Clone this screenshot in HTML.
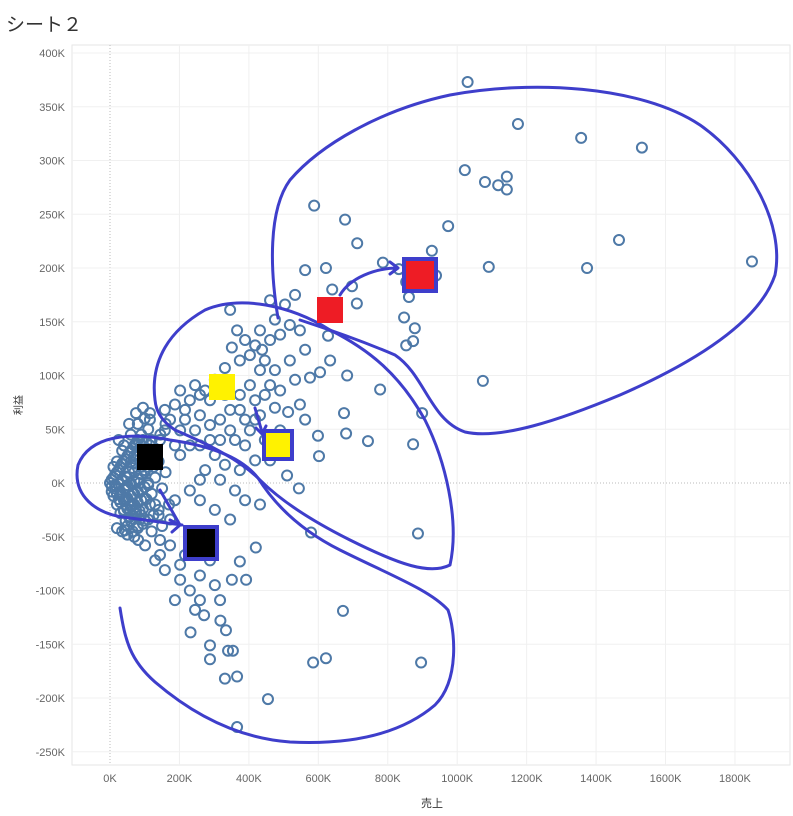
<!DOCTYPE html>
<html><head><meta charset="utf-8">
<style>
body{margin:0;background:#fff;font-family:"Liberation Sans","Noto Sans CJK JP",sans-serif;}
#wrap{position:relative;width:793px;height:816px;overflow:hidden;}
#title{position:absolute;left:6px;top:10px;font-size:19px;color:#333;}
</style></head><body>
<div id="wrap">
<div id="title">シート２</div>
<svg id="chart" width="793" height="816" style="position:absolute;left:0;top:0"></svg>
</div>
<script>
const xTicks=[0,200,400,600,800,1000,1200,1400,1600,1800];
const yTicks=[400,350,300,250,200,150,100,50,0,-50,-100,-150,-200,-250];
const sales=[1030,1175,1357,1532,1022,1080,1118,1143,1143,588,677,974,712,1466,927,1091,1374,1849,786,562,622,832,939,853,697,640,861,711,847,878,853,873,628,1074,778,683,674,680,743,599,602,899,873,887,896,671,622,585,579,544,510,455,366,366,331,340,354,334,318,232,288,288,271,420,374,392,351,
346,366,351,331,302,374,418,438,461,490,518,547,562,518,475,432,403,446,490,533,576,605,634,513,475,432,389,346,288,259,230,216,187,173,202,245,288,317,360,403,446,490,547,562,302,331,374,418,461,274,259,202,158,144,115,158,317,360,389,432,346,302,259,230,187,173,144,130,158,202,230,259,187,144,101,81,173,216,259,288,302,259,317,245,202,115,86,43,58,29,
202,245,274,216,259,317,374,418,346,389,259,230,187,288,331,374,418,461,446,403,389,432,475,504,533,461,
0,10,20,30,40,50,60,70,80,90,15,30,45,60,75,90,20,40,60,80,100,110,120,130,140,100,110,120,130,100,80,60,40,25,50,70,90,110,130,150,140,120,70,50,35,55,75,95,115,5,10,25,45,65,85,105,125,145,160,160,150,170,
5,15,25,35,45,55,65,75,85,95,105,115,5,15,25,35,45,55,65,75,85,95,105,115,125,10,20,30,40,50,60,70,80,90,100,110,120,20,30,40,50,60,70,80,90,100,110,30,40,50,60,70,80,90,100,45,55,65,75,85,95,60,70,80,90,20,35,50,65,80,95,110,125,140];
const profit=[373,334,321,312,291,280,277,285,273,258,245,239,223,226,216,201,200,206,205,198,200,199,193,187,183,180,173,167,154,144,128,132,137,95,87,100,65,46,39,44,25,65,36,-47,-167,-119,-163,-167,-46,-5,7,-201,-227,-180,-182,-156,-156,-137,-128,-139,-151,-164,-123,-60,-73,-90,-90,
161,142,126,107,96,114,128,124,133,138,147,142,124,114,105,105,91,82,86,96,98,103,114,66,70,63,59,68,77,82,77,68,73,59,49,49,54,40,40,49,40,49,73,59,26,17,12,21,21,12,3,26,49,40,59,68,3,-7,-16,-20,-34,-25,-16,-7,-16,-34,-53,-72,-81,-90,-100,-109,-109,-67,-58,-53,-58,-67,-58,-72,-95,-86,-109,-118,-76,-20,-34,-44,-25,-11,
86,91,86,59,63,59,68,59,49,35,35,35,35,40,82,82,77,91,114,119,133,142,152,166,175,170,
0,5,10,15,20,25,30,35,40,45,-5,-10,-15,-20,-25,-30,20,35,45,55,60,50,40,30,20,10,0,-10,-20,-35,-40,-35,-25,-15,5,10,15,25,5,-5,-30,-45,-50,-40,30,55,65,70,65,-8,15,40,-5,-10,0,-15,15,45,55,10,-40,-20,
3,8,12,18,22,28,32,36,38,40,38,35,-3,-2,-1,2,6,10,14,18,22,26,28,30,25,-12,-10,-8,-5,-2,0,2,4,8,12,15,18,-20,-18,-16,-14,-12,-10,-8,-6,-4,-2,-28,-26,-24,-22,-20,-18,-16,-14,-35,-32,-30,-28,-26,-24,20,25,30,35,-42,-45,-48,-45,-42,-38,-34,-30,-25];
const NS="http://www.w3.org/2000/svg";
const svg=document.getElementById('chart');
const L=72,R=790,T=45,B=765;
function xs(v){return 110+v*0.3472;}
function ys(v){return 483-v*1.075;}
function mk(t,a){const e=document.createElementNS(NS,t);for(const k in a)e.setAttribute(k,a[k]);svg.appendChild(e);return e;}
const frame=mk('rect',{x:L,y:T,width:R-L,height:B-T,fill:'none',stroke:'#e6e6e6'});


xTicks.forEach(t=>{
  const g=mk('line',{x1:xs(t),x2:xs(t),y1:T,y2:B,stroke:t===0?'#bbb':'#f0f0f0','stroke-dasharray':t===0?'1,2':''});
  
  
  const tx=mk('text',{x:xs(t),y:782,'text-anchor':'middle','font-size':11,fill:'#666'});
  tx.textContent=t===0?'0K':t+'K';
  
  
});
yTicks.forEach(t=>{
  const g=mk('line',{x1:L,x2:R,y1:ys(t),y2:ys(t),stroke:t===0?'#bbb':'#f0f0f0','stroke-dasharray':t===0?'1,2':''});
  
  
  const tx=mk('text',{x:65,y:ys(t)+4,'text-anchor':'end','font-size':11,fill:'#666'});
  tx.textContent=t+'K';
  
  
});
const xt=mk('text',{x:432,y:807,'text-anchor':'middle','font-size':11,fill:'#333'});xt.textContent='売上';


const yt=mk('text',{x:22,y:405,'text-anchor':'middle','font-size':10,fill:'#333',transform:'rotate(-90 22 405)'});yt.textContent='利益';


for(let i=0;i<sales.length;i++){
  const c=mk('circle',{cx:xs(sales[i]),cy:ys(profit[i]),r:5,fill:'none',stroke:'#4e79a7','stroke-width':2});
  
  
}
const ann='#3e3ecb';
const paths=[
 'M278,318 C270,270 268,210 290,180 C320,145 380,110 450,95 C530,80 640,85 700,125 C750,160 785,225 775,275 C760,320 700,360 620,395 C560,420 500,440 465,432 C430,420 425,375 395,355 C360,340 330,330 300,320',
 'M155,400 C150,360 170,330 205,310 C240,295 290,305 330,330 C370,350 400,375 425,420 C445,460 460,520 450,565 C430,575 400,565 350,540 C310,520 280,500 260,480 C240,460 210,445 175,430 C160,420 156,410 155,400',
 'M120,608 C125,640 130,660 155,682 C190,712 235,738 290,742 C350,745 400,735 435,705 C460,680 455,630 448,610 C430,590 390,575 340,550 C300,530 275,505 258,478 C240,455 205,445 170,440 C130,432 90,435 78,465 C72,495 95,515 130,518 L182,525',
 'M170,520 L180,525 L172,532',
 'M340,295 C350,278 375,268 398,268 M390,262 L398,268 L390,274',
 'M255,408 L262,432 M256,428 L262,434 L266,426',
 'M160,490 L180,525'
];
paths.forEach(d=>{const p=mk('path',{d:d,fill:'none',stroke:ann,'stroke-width':3,'stroke-linecap':'round','stroke-linejoin':'round'});

});
const sq=[[420,275,32,'#ee1c25',true],[330,310,26,'#ee1c25',false],[222,387,26,'#fff200',false],[278,445,28,'#fff200',true],[150,457,26,'#000',false],[201,543,32,'#000',true]];
sq.forEach(s=>{const r=mk('rect',{x:s[0]-s[2]/2,y:s[1]-s[2]/2,width:s[2],height:s[2],fill:s[3],stroke:s[4]?ann:'none','stroke-width':s[4]?4:0});

});
</script>
</body></html>
